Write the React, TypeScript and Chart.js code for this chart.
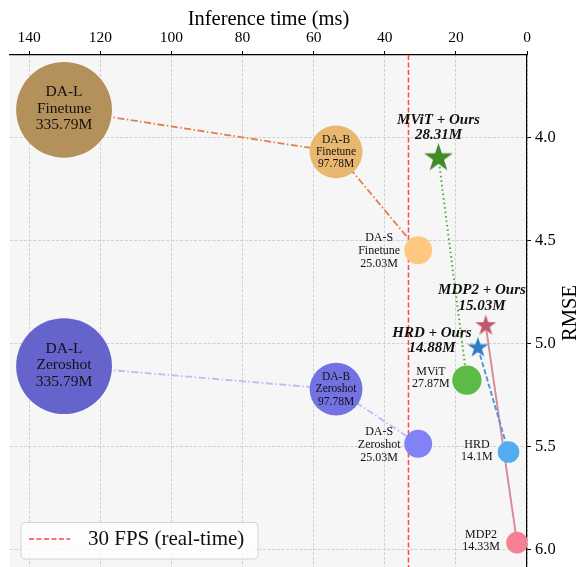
import React, { useEffect, useRef } from 'react';
import { Chart, registerables } from 'chart.js';

Chart.register(...registerables);

// ---------------- data ----------------
const daModels = ['DA-L', 'DA-B', 'DA-S'];
const daParamsM = [335.79, 97.78, 25.03];
const daTimeMs = [130.2, 53.7, 30.6];
const daFinetuneRmse = [3.866, 4.07, 4.548];
const daZeroshotRmse = [5.11, 5.222, 5.487];

const baseModels = ['MViT', 'HRD', 'MDP2'];
const baseParamsM = [27.87, 14.1, 14.33];
const baseTimeMs = [16.9, 5.2, 2.8];
const baseRmse = [5.178, 5.527, 5.967];

const oursModels = ['MViT + Ours', 'HRD + Ours', 'MDP2 + Ours'];
const oursParamsM = [28.31, 14.88, 15.03];
const oursTimeMs = [24.9, 13.8, 11.6];
const oursRmse = [4.1, 5.021, 4.914];

const fpsLabel = '30 FPS (real-time)';
const fpsTimeMs = 1000 / 30;

const xTicks = [0, 20, 40, 60, 80, 100, 120, 140];
const yTicks = [4.0, 4.5, 5.0, 5.5, 6.0];
const X_MIN = 0;
const X_MAX = 145.4;
const Y_MIN = 3.6;
const Y_MAX = 6.085;

// ---------------- styles ----------------
const SERIF = "'Liberation Serif', 'Times New Roman', serif";
const finetuneColors = ['#b4905a', '#e8b870', '#ffc880'];
const zeroshotColors = ['#6464cc', '#7272e2', '#8282f8'];
const baseColors = ['#5cba47', '#52acef', '#f58096'];
const oursColors = ['#3f8c26', '#2e7ec4', '#c4566e'];
const linkColors = ['#52a640', '#4a98d8', '#d88898'];
const linkDash = [[1.5, 3], [5, 2.5], []];

const circleR = (p: number) => 2.55 * Math.sqrt(p) + 1.2;
const starR = (p: number) => 2.84 * Math.sqrt(p);

function makeStar(R: number, color: string) {
  const size = Math.ceil(2 * R + 2);
  const c = document.createElement('canvas');
  c.width = size;
  c.height = size;
  const g = c.getContext('2d')!;
  const cx = size / 2;
  const cy = size / 2;
  g.beginPath();
  for (let i = 0; i < 10; i++) {
    const a = -Math.PI / 2 + (i * Math.PI) / 5;
    const r = i % 2 === 0 ? R : R * 0.382;
    const px = cx + r * Math.cos(a);
    const py = cy + r * Math.sin(a);
    if (i === 0) g.moveTo(px, py);
    else g.lineTo(px, py);
  }
  g.closePath();
  g.fillStyle = color;
  g.fill();
  return c;
}

const daLabelLayout = [
  { dx: 0, dy: -1, size: 15.5, lh: 16.5 },
  { dx: 0, dy: 0, size: 11.5, lh: 12.3 },
  { dx: -39, dy: 1, size: 12, lh: 13 },
];
const baseLabelLayout = [
  { dx: -36, dy: -2 },
  { dx: -31.6, dy: -0.8 },
  { dx: -36, dy: -1.5 },
];
const oursLabelLayout = [
  { dx: 0, dy: -30.4 },
  { dx: -46, dy: -7.4 },
  { dx: -3.8, dy: -27.4 },
];

function drawLines(ctx: CanvasRenderingContext2D, lines: string[], cx: number, cy: number, lh: number) {
  const n = lines.length;
  lines.forEach((t, k) => {
    ctx.fillText(t, cx, cy + (k - (n - 1) / 2) * lh);
  });
}

const bgPlugin = {
  id: 'plotBg',
  beforeDraw(chart: any) {
    const { ctx, chartArea: a } = chart;
    ctx.save();
    ctx.fillStyle = '#f6f6f6';
    ctx.fillRect(a.left, a.top, a.right - a.left, a.bottom - a.top);
    ctx.restore();
  },
};

const labelPlugin = {
  id: 'pointLabels',
  afterDatasetsDraw(chart: any) {
    const { ctx, scales } = chart;
    const x = scales.x;
    const y = scales.y;
    ctx.save();
    ctx.fillStyle = '#111';
    ctx.textAlign = 'center';
    ctx.textBaseline = 'middle';
    const modes: [string, number[]][] = [
      ['Finetune', daFinetuneRmse],
      ['Zeroshot', daZeroshotRmse],
    ];
    daModels.forEach((m, i) => {
      const L = daLabelLayout[i];
      modes.forEach(([mode, arr]) => {
        const px = x.getPixelForValue(daTimeMs[i]);
        const py = y.getPixelForValue(arr[i]);
        ctx.font = `${L.size}px ${SERIF}`;
        drawLines(ctx, [m, mode, `${daParamsM[i]}M`], px + L.dx, py + L.dy, L.lh);
      });
    });
    baseModels.forEach((m, i) => {
      const L = baseLabelLayout[i];
      const px = x.getPixelForValue(baseTimeMs[i]);
      const py = y.getPixelForValue(baseRmse[i]);
      ctx.font = `12px ${SERIF}`;
      drawLines(ctx, [m, `${baseParamsM[i]}M`], px + L.dx, py + L.dy, 12);
    });
    oursModels.forEach((m, i) => {
      const L = oursLabelLayout[i];
      const px = x.getPixelForValue(oursTimeMs[i]);
      const py = y.getPixelForValue(oursRmse[i]);
      ctx.font = `italic bold 15px ${SERIF}`;
      drawLines(ctx, [m, `${oursParamsM[i]}M`], px + L.dx, py + L.dy, 15.5);
    });
    ctx.restore();
  },
  afterDraw(chart: any) {
    const { ctx, chartArea: a } = chart;
    ctx.save();
    // y-axis title (rotated, reads bottom-to-top)
    ctx.fillStyle = '#000';
    ctx.font = `20.5px ${SERIF}`;
    ctx.textAlign = 'center';
    ctx.textBaseline = 'middle';
    ctx.translate(570.5, (a.top + a.bottom) / 2 + 2);
    ctx.rotate(-Math.PI / 2);
    ctx.fillText('RMSE', 0, 0);
    ctx.restore();

    // legend box
    ctx.save();
    const bx = a.left + 11;
    const by = a.bottom - 44.5;
    const bw = 237;
    const bh = 36.5;
    const r = 4;
    ctx.beginPath();
    ctx.moveTo(bx + r, by);
    ctx.arcTo(bx + bw, by, bx + bw, by + bh, r);
    ctx.arcTo(bx + bw, by + bh, bx, by + bh, r);
    ctx.arcTo(bx, by + bh, bx, by, r);
    ctx.arcTo(bx, by, bx + bw, by, r);
    ctx.closePath();
    ctx.fillStyle = 'rgba(255,255,255,0.8)';
    ctx.fill();
    ctx.strokeStyle = '#d4d4d4';
    ctx.lineWidth = 1;
    ctx.stroke();
    const ds = chart.data.datasets.find((d: any) => d.label === fpsLabel);
    ctx.strokeStyle = ds.borderColor;
    ctx.lineWidth = ds.borderWidth;
    ctx.setLineDash(ds.borderDash);
    ctx.beginPath();
    ctx.moveTo(bx + 8, by + 16.5);
    ctx.lineTo(bx + 49, by + 16.5);
    ctx.stroke();
    ctx.setLineDash([]);
    ctx.fillStyle = '#111';
    ctx.font = `21px ${SERIF}`;
    ctx.textAlign = 'left';
    ctx.textBaseline = 'alphabetic';
    ctx.fillText(ds.label, bx + 67, by + 22);
    ctx.restore();
  },
};

export default function App() {
  const ref = useRef<HTMLCanvasElement | null>(null);

  useEffect(() => {
    if (!ref.current) return;
    const datasets: any[] = [];

    // stars (top)
    datasets.push({
      type: 'scatter',
      label: 'ours',
      data: oursModels.map((_, i) => ({ x: oursTimeMs[i], y: oursRmse[i] })),
      pointStyle: oursModels.map((_, i) => makeStar(starR(oursParamsM[i]), oursColors[i])),
      pointRadius: oursModels.map((_, i) => starR(oursParamsM[i])),
      order: 0,
    });

    // circles
    const circles: any[] = [];
    const circleColors: string[] = [];
    daModels.forEach((_, i) => {
      circles.push({ x: daTimeMs[i], y: daFinetuneRmse[i], r: circleR(daParamsM[i]) });
      circleColors.push(finetuneColors[i]);
      circles.push({ x: daTimeMs[i], y: daZeroshotRmse[i], r: circleR(daParamsM[i]) });
      circleColors.push(zeroshotColors[i]);
    });
    baseModels.forEach((_, i) => {
      circles.push({ x: baseTimeMs[i], y: baseRmse[i], r: circleR(baseParamsM[i]) });
      circleColors.push(baseColors[i]);
    });
    datasets.push({
      type: 'bubble',
      label: 'models',
      data: circles,
      backgroundColor: circleColors,
      borderWidth: 0,
      order: 1,
    });

    // connecting lines
    datasets.push({
      type: 'line',
      label: 'finetune',
      data: daModels.map((_, i) => ({ x: daTimeMs[i], y: daFinetuneRmse[i] })),
      borderColor: '#e0804a',
      borderWidth: 1.8,
      borderDash: [7, 2.5, 1.5, 2.5],
      pointRadius: 0,
      fill: false,
      order: 5,
    });
    datasets.push({
      type: 'line',
      label: 'zeroshot',
      data: daModels.map((_, i) => ({ x: daTimeMs[i], y: daZeroshotRmse[i] })),
      borderColor: '#bcbcf2',
      borderWidth: 1.8,
      borderDash: [7, 2.5, 1.5, 2.5],
      pointRadius: 0,
      fill: false,
      order: 5,
    });
    baseModels.forEach((m, i) => {
      datasets.push({
        type: 'line',
        label: m + ' link',
        data: [
          { x: oursTimeMs[i], y: oursRmse[i] },
          { x: baseTimeMs[i], y: baseRmse[i] },
        ],
        borderColor: linkColors[i],
        borderWidth: i === 0 ? 2 : 1.9,
        borderDash: linkDash[i],
        pointRadius: 0,
        fill: false,
        order: 5,
      });
    });

    // 30 FPS line
    datasets.push({
      type: 'line',
      label: fpsLabel,
      data: [
        { x: fpsTimeMs, y: Y_MIN },
        { x: fpsTimeMs, y: Y_MAX },
      ],
      borderColor: 'rgba(255,40,40,0.85)',
      borderWidth: 1.5,
      borderDash: [5, 2.5],
      pointRadius: 0,
      fill: false,
      order: 6,
    });

    const chart = new Chart(ref.current, {
      type: 'scatter',
      data: { datasets },
      options: {
        animation: false,
        responsive: false,
        events: [],
        layout: { autoPadding: false, padding: { left: 10, right: 0, top: 0, bottom: 0 } },
        plugins: {
          legend: { display: false },
          tooltip: { enabled: false },
        },
        scales: {
          x: {
            type: 'linear',
            position: 'top',
            reverse: true,
            min: X_MIN,
            max: X_MAX,
            afterFit: (s: any) => {
              s.height = 55;
              s.paddingLeft = 0;
              s.paddingRight = 0;
            },
            afterBuildTicks: (s: any) => {
              s.ticks = xTicks.map((v) => ({ value: v }));
            },
            ticks: {
              color: '#000',
              font: { family: SERIF, size: 15.5 },
              padding: 4,
              maxRotation: 0,
              autoSkip: false,
              callback: (v: any) => String(v),
            },
            grid: {
              color: '#c8c8c8',
              lineWidth: 0.8,
              tickColor: '#000',
              tickLength: 4,
              tickWidth: 1,
            },
            border: { display: true, color: '#000', width: 1.2, dash: [3, 1.6] },
            title: {
              display: true,
              text: 'Inference time (ms)',
              color: '#000',
              font: { family: SERIF, size: 20.5 },
              padding: { top: 7, bottom: 0 },
            },
          },
          y: {
            type: 'linear',
            position: 'right',
            reverse: true,
            min: Y_MIN,
            max: Y_MAX,
            afterFit: (s: any) => {
              s.width = 53;
              s.paddingTop = 0;
              s.paddingBottom = 0;
            },
            afterBuildTicks: (s: any) => {
              s.ticks = yTicks.map((v) => ({ value: v }));
            },
            ticks: {
              color: '#000',
              font: { family: SERIF, size: 16.5 },
              padding: 4,
              autoSkip: false,
              callback: (v: any) => Number(v).toFixed(1),
            },
            grid: {
              color: '#c8c8c8',
              lineWidth: 0.8,
              tickColor: '#000',
              tickLength: 4,
              tickWidth: 1,
            },
            border: { display: true, color: '#000', width: 1.2, dash: [3, 1.6] },
            title: { display: false },
          },
        },
      },
      plugins: [bgPlugin, labelPlugin],
    } as any);

    return () => chart.destroy();
  }, []);

  return (
    <div style={{ position: 'absolute', left: 0, top: 0, width: 580, height: 567, background: '#fff' }}>
      <canvas ref={ref} width={580} height={567} style={{ display: 'block', width: 580, height: 567 }} />
    </div>
  );
}
